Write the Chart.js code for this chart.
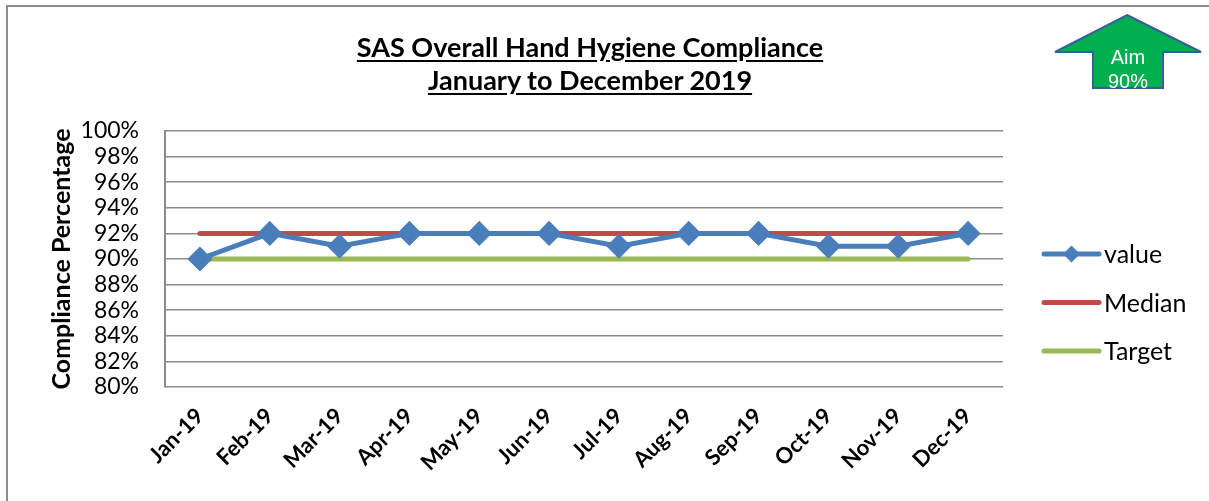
<!DOCTYPE html>
<html>
<head>
<meta charset="utf-8">
<script src="https://cdn.jsdelivr.net/npm/chart.js@4"></script>
<style>
  html, body { margin: 0; padding: 0; background: #fff; }
  #wrap { position: relative; width: 1209px; height: 501px; overflow: hidden; }
  #frame { position: absolute; left: 6px; top: 5px; width: 1300px; height: 600px;
           border-left: 2px solid #8c8c8c; border-top: 2px solid #8c8c8c; }
  #title { position: absolute; left: 0; width: 1180px; top: 30px; text-align: center;
           font-family: Lato, sans-serif; font-weight: bold; font-size: 27px; line-height: 33px;
           text-decoration: underline; text-underline-offset: 3px; color: #000; }
  #aim { position: absolute; left: 0; top: 0; }
  canvas { position: absolute; left: 0; top: 0; }
</style>
</head>
<body>
<div id="wrap">
  <div id="frame"></div>
  <canvas id="hhChart" width="1209" height="501"></canvas>
  <div id="title">SAS Overall Hand Hygiene Compliance<br>January to December 2019</div>
  <svg id="aim" width="1209" height="120">
    <defs>
      <clipPath id="arrowClip">
        <polygon points="1127,15 1201,52 1163,52 1163,88 1093,88 1093,52 1055,52"/>
      </clipPath>
    </defs>
    <polygon points="1127,15 1201,52 1163,52 1163,88 1093,88 1093,52 1055,52"
             fill="#00b050" stroke="#3a5e9c" stroke-width="2"/>
    <g clip-path="url(#arrowClip)" font-family="'Liberation Sans', Arial, sans-serif" font-size="20" fill="#fff" text-anchor="middle">
      <text x="1128" y="64">Aim</text>
      <text x="1128" y="88">90%</text>
    </g>
  </svg>
</div>
<script>
// --- chart data ---
const months = ['Jan-19', 'Feb-19', 'Mar-19', 'Apr-19', 'May-19', 'Jun-19',
                'Jul-19', 'Aug-19', 'Sep-19', 'Oct-19', 'Nov-19', 'Dec-19'];
const compliance = [90, 92, 91, 92, 92, 92, 91, 92, 92, 91, 91, 92];
const median = [92, 92, 92, 92, 92, 92, 92, 92, 92, 92, 92, 92];
const target = [90, 90, 90, 90, 90, 90, 90, 90, 90, 90, 90, 90];
const yTicks = [80, 82, 84, 86, 88, 90, 92, 94, 96, 98, 100];

const FONT = 'Lato, sans-serif';

// legend drawn beside the plot: line sample (+ marker for value) and label
const sideLegend = {
    id: 'sideLegend',
    afterDraw(chart) {
        const ctx = chart.ctx;
        const area = chart.chartArea;
        const x0 = area.right + 41;
        const x1 = x0 + 55;
        ctx.save();
        chart.data.datasets.forEach((ds, i) => {
            const y = area.top + 123 + i * 48.5;
            ctx.strokeStyle = ds.borderColor;
            ctx.lineWidth = 5;
            ctx.lineCap = 'round';
            ctx.beginPath();
            ctx.moveTo(x0, y);
            ctx.lineTo(x1, y);
            ctx.stroke();
            if (ds.pointRadius > 0) {
                ctx.fillStyle = ds.pointBackgroundColor;
                const r = 8.5;
                const cx = (x0 + x1) / 2;
                ctx.beginPath();
                ctx.moveTo(cx, y - r);
                ctx.lineTo(cx + r, y);
                ctx.lineTo(cx, y + r);
                ctx.lineTo(cx - r, y);
                ctx.closePath();
                ctx.fill();
            }
            ctx.fillStyle = '#000';
            ctx.font = '25px ' + FONT;
            ctx.textBaseline = 'middle';
            ctx.textAlign = 'left';
            ctx.fillText(ds.label, x1 + 5, y + 1);
        });
        ctx.restore();
    }
};

new Chart(document.getElementById('hhChart').getContext('2d'), {
    type: 'line',
    data: {
        labels: months,
        datasets: [
            {
                label: 'value',
                data: compliance,
                borderColor: '#4a7ebb',
                backgroundColor: '#4a7ebb',
                pointBackgroundColor: '#4a7ebb',
                pointBorderColor: '#4a7ebb',
                borderWidth: 5,
                pointStyle: 'rectRot',
                pointRadius: 9,
                order: 0
            },
            {
                label: 'Median',
                data: median,
                borderColor: '#be4b48',
                borderWidth: 5,
                borderCapStyle: 'round',
                pointRadius: 0,
                order: 1
            },
            {
                label: 'Target',
                data: target,
                borderColor: '#98b954',
                borderWidth: 5,
                borderCapStyle: 'round',
                pointRadius: 0,
                order: 2
            }
        ]
    },
    options: {
        responsive: false,
        animation: false,
        layout: { padding: { left: 47, top: 131, right: 206, bottom: 0 } },
        plugins: {
            legend: { display: false },
            tooltip: { enabled: false },
            title: { display: false }
        },
        scales: {
            x: {
                offset: true,
                grid: { display: false },
                border: { display: false },
                ticks: {
                    color: '#000',
                    maxRotation: 45,
                    minRotation: 45,
                    autoSkip: false,
                    padding: 8,
                    font: { family: FONT, size: 22, weight: 'bold' }
                },
                afterFit(scale) { scale.height = 114; }
            },
            y: {
                min: 80,
                max: 100,
                afterBuildTicks(scale) { scale.ticks = yTicks.map(v => ({ value: v })); },
                grid: { color: '#8c8c8c', lineWidth: 1.5, drawTicks: false },
                border: { color: '#8c8c8c', width: 2 },
                ticks: {
                    color: '#000',
                    padding: 26,
                    autoSkip: false,
                    font: { family: FONT, size: 23 },
                    callback: v => v + '%'
                },
                title: {
                    display: true,
                    text: 'Compliance Percentage',
                    color: '#000',
                    font: { family: FONT, size: 25, weight: 'bold' },
                    padding: 0
                },
                afterFit(scale) { scale.width = 118; }
            }
        }
    },
    plugins: [sideLegend]
});
</script>
</body>
</html>
